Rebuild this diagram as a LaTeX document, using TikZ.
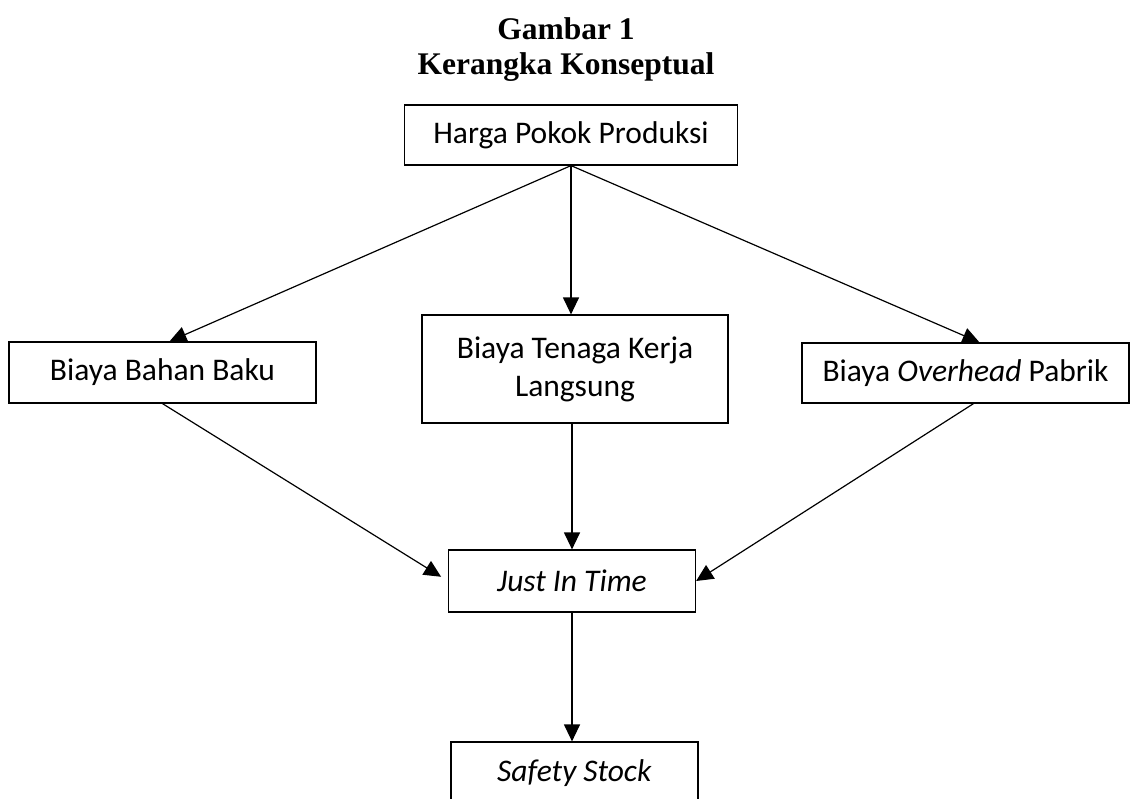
\documentclass[tikz,border=0pt]{standalone}
\usepackage{fontspec}
\setmainfont{Liberation Serif}
\newfontfamily\kotakfont{Carlito}
\usepackage{tikz}
\usetikzlibrary{arrows.meta, positioning}
\tikzstyle{kotak} = [draw, line width=1.2pt, inner sep=0pt, align=center,
    font=\kotakfont\fontsize{31.5}{38}\selectfont]
\tikzstyle{panah} = [-{Triangle[length=17pt, width=16pt]}, line width=1.2pt]

\begin{document}
\begin{tikzpicture}[x=1pt, y=-1pt]
    \clip (0,0) rectangle (1131,798);
    \node[align=center, font=\bfseries\fontsize{31.5}{35}\selectfont] (judul) at (566,50)
        {Gambar 1\\Kerangka Konseptual};
    \node[kotak, minimum width=333pt, minimum height=60pt] (hpp) at (571,135) {Harga Pokok Produksi};
    \node[kotak, minimum width=307pt, minimum height=61pt] (bbb) at (162.5,372.5) {Biaya Bahan Baku};
    \node[kotak, minimum width=306pt, minimum height=108pt] (btk) at (575,369)
        {Biaya Tenaga Kerja\\Langsung};
    \node[kotak, minimum width=327pt, minimum height=60pt] (bop) at (965.5,373)
        {Biaya \textit{Overhead} Pabrik};
    \node[kotak, minimum width=247pt, minimum height=62pt] (jit) at (572,581) {\textit{Just In Time}};
    \node[kotak, minimum width=247pt, minimum height=62pt] (ss) at (574.5,773) {\textit{Safety Stock}};
    % panah dari harga pokok
    \draw[panah] (hpp.south) -- ([xshift=7pt]bbb.north);
    \draw[panah] (hpp.south) -- (hpp.south |- btk.north);
    \draw[panah] (hpp.south) -- ([xshift=14pt]bop.north);
    % panah ke just in time
    \draw[panah, shorten >=8pt] (bbb.south) -- (jit.west);
    \draw[panah] (jit.north |- btk.south) -- (jit.north);
    \draw[panah] ([xshift=8pt]bop.south) -- (jit.east);
    \draw[panah] (jit.south) -- (jit.south |- ss.north);
\end{tikzpicture}
\end{document}
